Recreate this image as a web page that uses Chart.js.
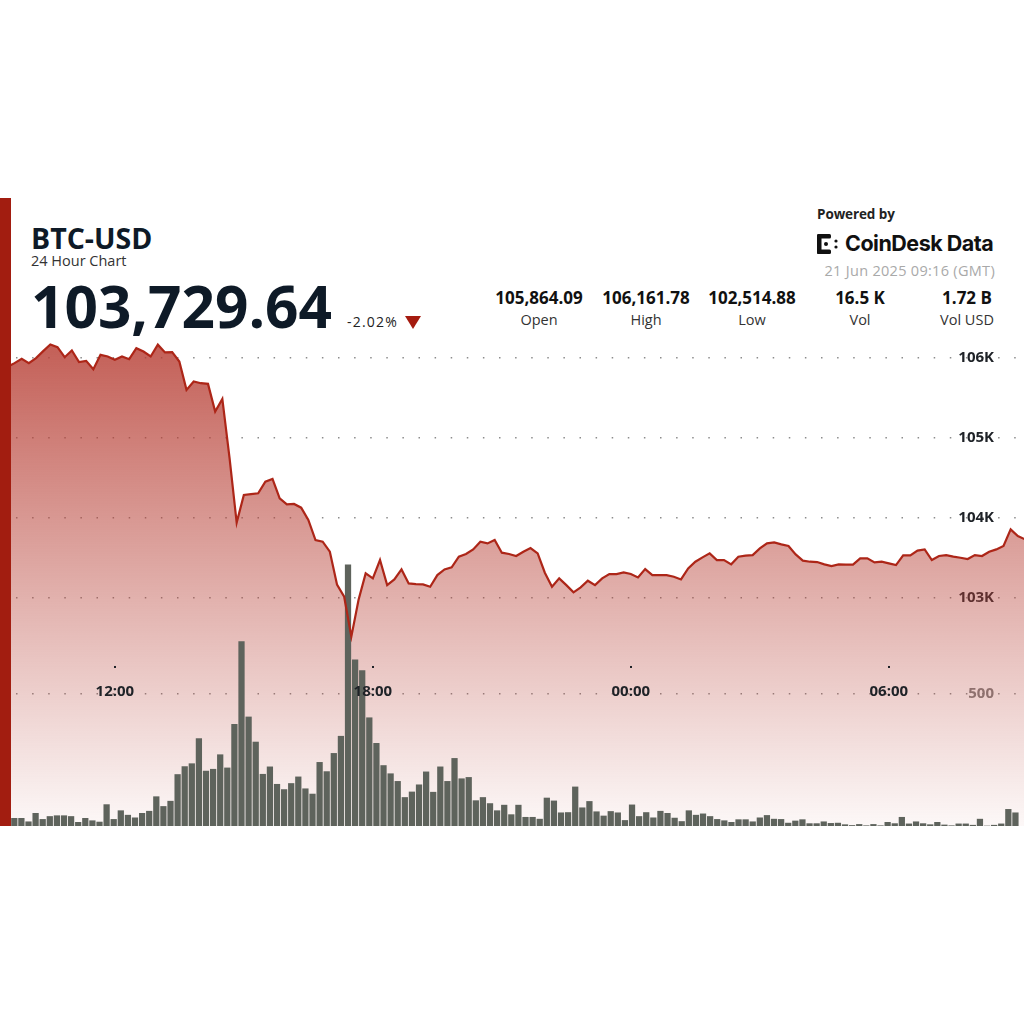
<!DOCTYPE html>
<html>
<head>
<meta charset="utf-8">
<title>BTC-USD 24 Hour Chart</title>
<script src="https://cdn.jsdelivr.net/npm/chart.js@4.4.1/dist/chart.umd.min.js"></script>
<style>
  body { margin: 0; background: #fff; font-family: 'Open Sans', sans-serif; }
  #wrap { position: relative; width: 1024px; height: 1024px; overflow: hidden; background: #fff; }
  .abs { position: absolute; line-height: 1; white-space: nowrap; }
  #redbar { position: absolute; left: 0; top: 198px; width: 11px; height: 628px; background: #a21d10; }
  #sym { left: 31px; top: 223.5px; font-size: 28.5px; font-weight: 700; color: #0e1a27; }
  #sub { left: 31px; top: 253.5px; font-size: 14.5px; color: #333; }
  #price { left: 31px; top: 276px; font-size: 58.5px; font-weight: 700; color: #0e1a27; }
  #chg { left: 347px; top: 314.5px; font-size: 14px; color: #222; letter-spacing: 1.2px; }
  #tri { position: absolute; left: 405px; top: 316px; width: 0; height: 0;
         border-left: 8.5px solid transparent; border-right: 8.5px solid transparent; border-top: 13px solid #a51b0f; }
  #powered { left: 817px; top: 207.5px; font-size: 13.5px; font-weight: 700; color: #222; letter-spacing: -0.1px; }
  #logo { position: absolute; left: 817px; top: 233px; height: 22px; display: flex; align-items: center; }
  #logo span { font-family: 'Inter', sans-serif; font-size: 21.5px; font-weight: 700; color: #111; letter-spacing: -0.5px; margin-left: 6px; line-height: 1; }
  #stamp { right: 29px; top: 264px; font-size: 14.5px; color: #a9a9a9; letter-spacing: 0.3px; }
  .val { top: 288.5px; width: 120px; text-align: center; font-size: 17px; font-weight: 700; color: #111; }
  .lab { top: 313px; width: 120px; text-align: center; font-size: 14.5px; color: #333; }
  #chart { position: absolute; left: 11px; top: 337px; }
</style>
</head>
<body>
<div id="wrap">
  <div id="redbar"></div>
  <div class="abs" id="sym">BTC-USD</div>
  <div class="abs" id="sub">24 Hour Chart</div>
  <div class="abs" id="price">103,729.64</div>
  <div class="abs" id="chg">-2.02%</div>
  <div id="tri"></div>
  <div class="abs" id="powered">Powered by</div>
  <div id="logo">
    <svg width="22" height="22" viewBox="0 0 22 22">
      <g fill="#111">
        <rect x="0" y="1" width="4.5" height="20" rx="1.5"/>
        <rect x="0" y="1" width="14" height="4.5" rx="1.5"/>
        <rect x="0" y="16.5" width="14" height="4.5" rx="1.5"/>
        <circle cx="9" cy="11" r="2"/>
        <circle cx="19" cy="8" r="1.6"/>
        <circle cx="19" cy="14" r="1.6"/>
      </g>
    </svg>
    <span>CoinDesk Data</span>
  </div>
  <div class="abs" id="stamp">21 Jun 2025 09:16 (GMT)</div>
  <div id="stats"></div>
  <canvas id="chart" width="1013" height="489"></canvas>
</div>
<script>
// price every 10 min, first point 09:30 (minutes since midnight of day 1)
const startMinute = 570;
const stepMinutes = 10;
const prices = [
  105880, 105930, 105983, 105929, 105992, 106080, 106162, 106129, 106004, 106088,
  105942, 105958, 105854, 106033, 106013, 105971, 106013, 105979, 106117, 106075,
  106013, 106160, 106063, 106067, 105950, 105596, 105700, 105679, 105671, 105325,
  105483, 104750, 103938, 104283, 104295, 104304, 104450, 104483, 104242, 104167,
  104171, 104125, 103971, 103721, 103700, 103575, 103165, 103013, 102515, 102971,
  103304, 103242, 103471, 103158, 103229, 103354, 103179, 103171, 103167, 103138,
  103283, 103354, 103379, 103513, 103546, 103604, 103700, 103679, 103721, 103563,
  103546, 103521, 103575, 103621, 103554, 103313, 103138, 103242, 103158, 103067,
  103129, 103213, 103158, 103242, 103296, 103296, 103317, 103296, 103254, 103358,
  103283, 103283, 103283, 103263, 103229, 103367, 103450, 103504, 103554, 103471,
  103471, 103417, 103513, 103525, 103533, 103617, 103679, 103692, 103667, 103646,
  103542, 103463, 103450, 103446, 103417, 103396, 103417, 103413, 103413, 103492,
  103492, 103442, 103450, 103429, 103408, 103529, 103529, 103588, 103604, 103471,
  103521, 103533, 103513, 103500, 103483, 103533, 103521, 103575, 103604, 103646,
  103854, 103771, 103730
];
const volumes = [
  29, 29, 16, 48, 25, 36, 39, 39, 36, 14,
  29, 20, 15, 81, 25, 58, 41, 31, 48, 56,
  111, 74, 94, 195, 225, 236, 331, 208, 215, 270,
  220, 385, 698, 413, 318, 196, 224, 158, 138, 161,
  186, 141, 121, 241, 206, 275, 340, 989, 629, 589,
  410, 313, 229, 198, 169, 108, 129, 156, 205, 128,
  224, 169, 256, 179, 184, 96, 108, 85, 58, 79,
  43, 79, 33, 33, 26, 106, 95, 50, 51, 148,
  69, 93, 54, 38, 55, 50, 21, 80, 36, 51,
  31, 56, 48, 30, 17, 58, 41, 46, 36, 25,
  20, 14, 24, 24, 16, 31, 40, 26, 25, 11,
  19, 24, 9, 9, 16, 10, 11, 5, 2, 6,
  1, 6, 1, 14, 9, 33, 8, 16, 9, 5,
  14, 4, 1, 8, 8, 3, 26, 0, 3, 8,
  63, 50
];
const priceTicks = [103000, 104000, 105000, 106000];
const priceTickLabels = ['103K', '104K', '105K', '106K'];
const volTicks = [500];
const volTickLabels = ['500'];
const timeTicks = [720, 1080, 1440, 1800];
const timeTickLabels = ['12:00', '18:00', '00:00', '06:00'];

const statValues = ['105,864.09', '106,161.78', '102,514.88', '16.5 K', '1.72 B'];
const statLabels = ['Open', 'High', 'Low', 'Vol', 'Vol USD'];
const statCenters = [539, 646, 752, 860, 967];

const stats = document.getElementById('stats');
statValues.forEach((v, n) => {
  const a = document.createElement('div');
  a.className = 'abs val';
  a.style.left = (statCenters[n] - 60) + 'px';
  a.textContent = v;
  const b = document.createElement('div');
  b.className = 'abs lab';
  b.style.left = (statCenters[n] - 60) + 'px';
  b.textContent = statLabels[n];
  stats.appendChild(a);
  stats.appendChild(b);
});

const priceTimes = prices.map((p, j) => startMinute + j * stepMinutes);

function fillGradient(context) {
  const chart = context.chart;
  const area = chart.chartArea;
  if (!area) return 'rgba(185,70,60,0.4)';
  const g = chart.ctx.createLinearGradient(0, area.top, 0, area.bottom);
  g.addColorStop(0, 'rgba(183,62,52,0.84)');
  g.addColorStop(1, 'rgba(185,70,60,0.04)');
  return g;
}

const tickFont = { family: 'Open Sans', size: 15, weight: 'bold' };
const dots = { display: false, dash: [1.5, 14.6], dashOffset: 11.1 };

// mirrored axes must not take any room
function noRoom(s) {
  s.width = 0;
  s.paddingTop = 0;
  s.paddingBottom = 0;
  s.paddingLeft = 0;
  s.paddingRight = 0;
}

// time labels sit on the volume 500 line
const timeAxisLabels = {
  id: 'timeAxisLabels',
  afterDraw(chart) {
    const { ctx, scales } = chart;
    const yBase = scales.yv.getPixelForValue(volTicks[0]);
    ctx.save();
    ctx.font = 'bold 15px "Open Sans"';
    ctx.fillStyle = '#1e2227';
    ctx.textAlign = 'center';
    ctx.textBaseline = 'middle';
    timeTicks.forEach((t, n) => {
      const px = scales.x.getPixelForValue(t);
      ctx.fillRect(Math.round(px) - 1, yBase - 28, 2, 2);
      ctx.fillText(timeTickLabels[n], px, yBase - 2);
    });
    ctx.restore();
  }
};

const ctx = document.getElementById('chart').getContext('2d');
const myChart = new Chart(ctx, {
  type: 'line',
  data: {
    datasets: [
      {
        type: 'line',
        data: prices.map((p, j) => ({ x: priceTimes[j], y: p })),
        xAxisID: 'x',
        yAxisID: 'y',
        borderColor: '#ad2618',
        borderWidth: 2.2,
        pointRadius: 0,
        tension: 0,
        fill: 'start',
        backgroundColor: fillGradient,
        order: 0
      },
      {
        type: 'bar',
        data: volumes.map((v, k) => ({ x: k, y: v })),
        xAxisID: 'xv',
        yAxisID: 'yv',
        backgroundColor: '#5e635c',
        barThickness: 5.6,
        order: 1
      }
    ]
  },
  options: {
    responsive: false,
    animation: false,
    devicePixelRatio: 1,
    events: [],
    layout: { padding: 0 },
    plugins: {
      legend: { display: false },
      tooltip: { enabled: false },
      filler: { drawTime: 'beforeDatasetsDraw' }
    },
    scales: {
      x: { type: 'linear', min: 575.1, max: 1988.6, offset: false, display: false, grid: { offset: false } },
      xv: {
        type: 'linear', min: -0.07, max: 142.6, offset: false, display: false, grid: { offset: false },
        afterBuildTicks: s => { s.ticks = []; }
      },
      y: {
        type: 'linear', position: 'right', min: 100150, max: 106256, z: 1,
        afterBuildTicks: s => { s.ticks = priceTicks.map(v => ({ value: v })); },
        afterFit: noRoom,
        grid: { color: '#8c8c8c', lineWidth: 1.5, drawTicks: false },
        border: dots,
        ticks: { mirror: true, padding: -30, color: '#1e2227', font: tickFont,
                 callback: (v, i) => priceTickLabels[i] }
      },
      yv: {
        type: 'linear', position: 'right', min: 0, max: 1852, z: 1,
        afterBuildTicks: s => { s.ticks = volTicks.map(v => ({ value: v })); },
        afterFit: noRoom,
        grid: { color: '#8c8c8c', lineWidth: 1.5, drawTicks: false },
        border: dots,
        ticks: { mirror: true, padding: -30, color: '#808080', font: tickFont,
                 callback: (v, i) => volTickLabels[i] }
      }
    }
  },
  plugins: [timeAxisLabels]
});
</script>
</body>
</html>
